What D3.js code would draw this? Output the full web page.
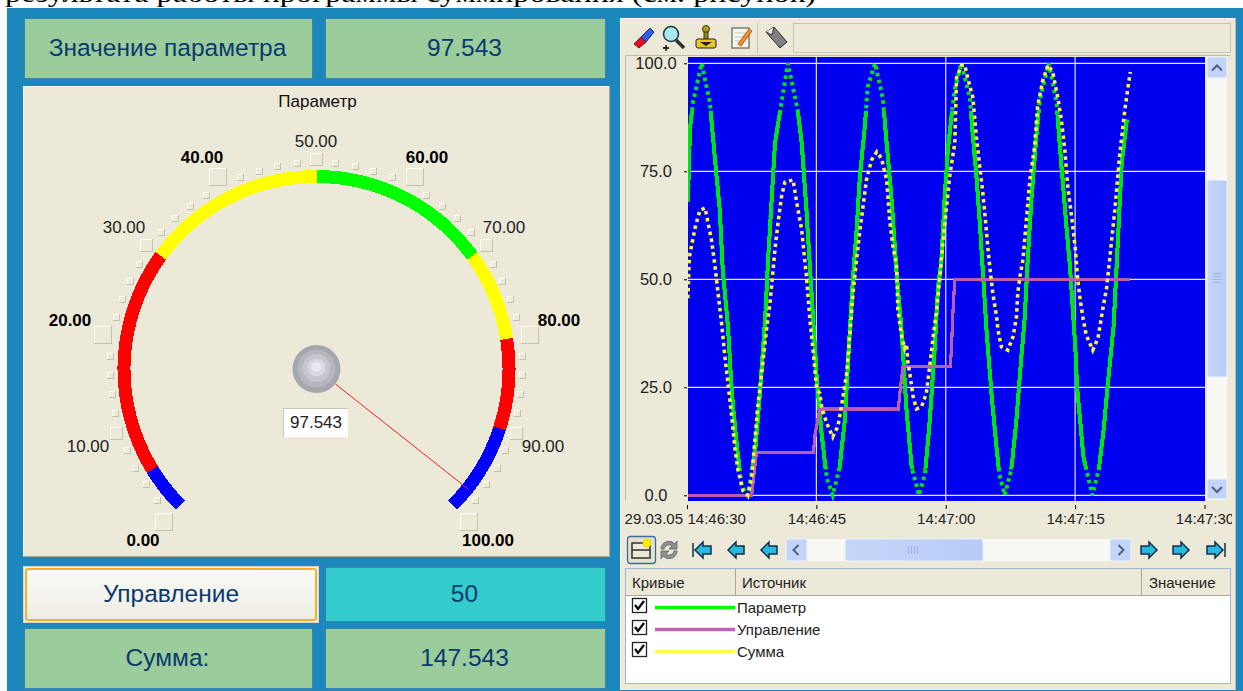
<!DOCTYPE html>
<html>
<head>
<meta charset="utf-8">
<script src="https://d3js.org/d3.v7.min.js"></script>
<style>
  body { margin: 0; background: #fff; }
  svg { display: block; }
  text { font-family: "Liberation Sans", sans-serif; }
</style>
</head>
<body>
<div id="chart"></div>
<script>
// trend curves, time is seconds after 14:46:30
const paramTimes = [0.1,0.35,0.7,1.7,2.65,3.25,3.8,4.15,4.75,5.2,5.75,6.35,7.05,7.9,8.45,9.05,9.4,10.2,10.8,11.7,12.85,13.3,13.85,14.25,15.05,15.6,16.2,16.9,17.7,18.3,18.9,19.25,19.65,20.05,20.6,20.95,21.8,22.7,23.15,23.7,24.3,24.9,25.45,26.05,26.9,27.6,28.15,28.75,29.1,29.5,29.9,30.25,30.65,31.05,31.8,32.8,33.15,33.55,33.95,34.3,34.75,35.3,35.8,36.2,36.85,37.6,38.2,38.6,39.15,39.5,39.95,40.5,40.9,41.95,42.85,43.2,43.55,44.0,44.4,45.0,45.25,45.6,45.95,47.0,47.75,48.35,48.75,49.45,49.85,50.4,51.0];
const paramValues = [68,85,91,100,91,77.6,66,52,39,23.6,12,2,0,10,23.6,40.6,54.5,81.5,89,100,89,81.5,66,53,27,14.4,4,0,6.5,17.4,39,50.6,61,74,85,94.5,100,92,81.5,69,51.5,37.6,19.7,6.5,0,5,17.4,35,48,54.5,70,80,87.6,94,100,92,83,74,63,52,37.6,23.6,12.8,5,0,6,17.4,28,41,54.5,69,83,91.5,100,91,81.5,73,62,53,35,24.4,17,9,0,6,16,25,39,54.5,77,87];

const controlTimes = [0.1,7.5,8.05,14.65,14.85,15.4,24.5,24.75,25.05,30.55,30.7,30.85,31.05,51.4];
const controlValues = [0,0,9.9,9.9,14,20,20,25,29.9,29.9,36,43,50,50];

const sumTimes = [0.1,0.25,0.35,0.95,1.5,2.1,2.45,2.85,3.25,3.6,4.0,4.4,4.75,5.2,5.55,5.9,6.5,7.05,7.5,8.2,8.65,9.25,9.6,9.95,10.2,10.55,10.95,11.35,12.3,12.7,13.3,13.65,13.85,14.25,14.6,15.05,15.4,15.6,16.2,16.9,17.5,17.9,18.5,18.9,19.25,19.65,20.05,20.4,20.8,21.4,22.0,22.55,23.15,23.5,23.85,24.3,24.45,24.9,25.25,25.45,25.6,25.85,26.2,26.6,27.2,27.75,28.15,28.5,28.95,29.3,29.65,30.1,30.5,31.05,31.25,31.85,32.2,32.55,33.15,33.55,33.95,34.3,34.6,34.9,35.1,35.45,35.9,36.05,36.45,37.2,37.8,38.2,38.35,38.6,38.95,39.35,39.75,40.3,40.65,41.25,41.85,42.4,43.0,43.4,43.8,44.15,44.6,45.0,45.2,45.3,45.6,45.95,46.3,47.05,47.65,48.2,48.65,49.0,49.6,50.15,50.75,51.1,51.4];
const sumValues = [45.6,54,56,62,66,66.5,63,59,53,46.8,40,32,26,18,11,6,1,0,4,20.5,28,39,44,51.5,57,63,69,72.5,73,68,61.4,54.5,50.6,40.6,34,24.4,23.6,20.5,16.7,13.5,16,20.5,28,37.6,46.8,54.5,61.4,66.7,73,77.6,79.5,78,73,63.7,58,53,43,36.7,34,35,31,28,23,20,20.5,23.6,30,36,43,50,58,67,74.5,81.5,96.6,99.6,99.6,96.6,92,83,76,70,63.7,57,53,46.8,41.3,38.3,34.4,33.6,36.7,41.3,46.8,50.6,54.5,63.7,73,80.6,90,96,99.6,98,92,87,80,71.4,64.4,57.5,52.6,50,45,40.6,37,33.6,36.4,43,48,54.5,66,78.4,89,94,98];

const trendTicks = [0, 15, 30, 45, 60];
const trendTickLabels = ["14:46:30", "14:46:45", "14:47:00", "14:47:15", "14:47:30"];
const trendDate = "29.03.05";
const valueTicks = [0, 25, 50, 75, 100];

// gauge
const gaugeBands = [
  { from: 0, to: 5, color: "#0000ff" },
  { from: 5, to: 30, color: "#ff0000" },
  { from: 30, to: 50, color: "#ffff00" },
  { from: 50, to: 70, color: "#00ff00" },
  { from: 70, to: 80, color: "#ffff00" },
  { from: 80, to: 90, color: "#ff0000" },
  { from: 90, to: 100, color: "#0000ff" },
];
const gaugeMajor = [0, 20, 40, 60, 80, 100];
const gaugeMiddle = [10, 30, 50, 70, 90];
const gaugeMinor = d3.range(0, 101, 2).filter((d) => d % 10 !== 0);
const paramValue = 97.543;
const controlValue = 50;
const sumValue = 147.543;

const legendNames = ["Параметр", "Управление", "Сумма"];
const legendColors = ["#00ff00", "#c060b0", "#ffff40"];

const svg = d3.select("#chart").append("svg").attr("width", 1243).attr("height", 691);
const defs = svg.append("defs");

svg.append("rect").attr("x", 7).attr("y", 8).attr("width", 1236).attr("height", 683).attr("fill", "#1c87bc");
svg.append("text").attr("x", 5).attr("y", 2).attr("font-size", 25)
  .attr("textLength", 811).attr("lengthAdjust", "spacingAndGlyphs")
  .style("font-family", "'Liberation Serif', serif")
  .text("результата работы программы суммирования (см. рисунок)");

// ---- left side: value tiles
function tile(x, y, w, h, fill, label) {
  svg.append("rect").attr("x", x + 0.5).attr("y", y + 0.5).attr("width", w - 1).attr("height", h - 1)
    .attr("fill", fill).attr("stroke", "#3f80a8");
  svg.append("text").attr("x", x + w / 2 - 1).attr("y", y + h / 2 + 7.5).attr("text-anchor", "middle")
    .attr("font-size", 24.5).attr("fill", "#0b3a6e").text(label);
}
tile(24, 18, 289, 61, "#9bcc9b", "Значение параметра");
tile(325, 18, 281, 61, "#9bcc9b", paramValue.toFixed(3));
tile(325, 567, 281, 55, "#33cccc", controlValue);
tile(24, 628, 289, 61, "#9bcc9b", "Сумма:");
tile(325, 628, 281, 61, "#9bcc9b", sumValue.toFixed(3));

const btnGrad = defs.append("linearGradient").attr("id", "btn").attr("x2", 0).attr("y2", 1);
btnGrad.append("stop").attr("offset", 0).attr("stop-color", "#fafaf6");
btnGrad.append("stop").attr("offset", 1).attr("stop-color", "#eeede4");
svg.append("rect").attr("x", 23.5).attr("y", 566.5).attr("width", 295).attr("height", 56)
  .attr("fill", "#f0f0ea").attr("stroke", "#d8d8d0");
svg.append("rect").attr("x", 26).attr("y", 569).attr("width", 290).attr("height", 51).attr("rx", 2)
  .attr("fill", "url(#btn)").attr("stroke", "#f4b030").attr("stroke-width", 2);
svg.append("text").attr("x", 171).attr("y", 602).attr("text-anchor", "middle")
  .attr("font-size", 24.5).attr("fill", "#0b3a6e").text("Управление");

// ---- gauge
const cx = 316.5, cy = 369;
const angle = d3.scaleLinear().domain([0, 100]).range([-135, 135]);
const rad = (v) => (angle(v) * Math.PI) / 180;
const polar = (v, r) => [cx + r * Math.sin(rad(v)), cy - r * Math.cos(rad(v))];

svg.append("rect").attr("x", 23).attr("y", 86).attr("width", 587).attr("height", 471).attr("fill", "#ece9d8");
svg.append("path").attr("d", "M23.5,557V86.5H610").attr("fill", "none").attr("stroke", "#fbfaf4");
svg.append("path").attr("d", "M609.5,86V556.5H23").attr("fill", "none").attr("stroke", "#a9a795");

svg.append("text").attr("x", 317.5).attr("y", 107).attr("text-anchor", "middle")
  .attr("font-size", 17).attr("fill", "#111").text("Параметр");

const arc = d3.arc().innerRadius(186).outerRadius(199);
const gauge = svg.append("g").attr("transform", `translate(${cx},${cy})`).attr("shape-rendering", "crispEdges");
gauge.selectAll("path").data(gaugeBands).join("path")
  .attr("d", (d) => arc({ startAngle: rad(d.from), endAngle: rad(d.to) }))
  .attr("fill", (d) => d.color);

function raisedSquare(v, r, size) {
  const [x, y] = polar(v, r);
  const left = Math.round(x - size / 2), top = Math.round(y - size / 2);
  const g = svg.append("g").attr("shape-rendering", "crispEdges");
  g.append("rect").attr("x", left).attr("y", top).attr("width", size).attr("height", size).attr("fill", "#c4c1ae");
  g.append("rect").attr("x", left).attr("y", top).attr("width", size - 1).attr("height", size - 1).attr("fill", "#fcfbf6");
  g.append("rect").attr("x", left + 1).attr("y", top + 1).attr("width", size - 2).attr("height", size - 2).attr("fill", "#ece9d8");
}
gaugeMinor.forEach((v) => raisedSquare(v, 206, 7));
gaugeMiddle.forEach((v) => raisedSquare(v, 210, 13));
gaugeMajor.forEach((v) => raisedSquare(v, 216, 18));

const gaugeLabelPos = { 0: [143, 540], 10: [88, 446], 20: [70, 320], 30: [124, 227], 40: [202, 157], 50: [316, 141], 60: [427, 157], 70: [504, 227], 80: [559, 320], 90: [543, 446], 100: [488, 540] };
gaugeMajor.concat(gaugeMiddle).forEach((v) => {
  svg.append("text").attr("x", gaugeLabelPos[v][0]).attr("y", gaugeLabelPos[v][1] + 6)
    .attr("text-anchor", "middle").attr("font-size", 17)
    .attr("font-weight", gaugeMajor.includes(v) ? "bold" : "normal")
    .attr("fill", gaugeMajor.includes(v) ? "#000" : "#222").text(v.toFixed(2));
});

const needleFrom = polar(paramValue, 24), needleTo = polar(paramValue, 193.5);
svg.append("line").attr("x1", needleFrom[0]).attr("y1", needleFrom[1]).attr("x2", needleTo[0]).attr("y2", needleTo[1])
  .attr("stroke", "#f02020").attr("stroke-width", 1);
[[24, "#a6a6ae"], [19, "#b6b6be"], [14, "#c6c6ce"], [9, "#d8d8e0"], [5, "#e8e8f0"]].forEach(([r, c], i) => {
  svg.append("circle").attr("cx", cx).attr("cy", cy - i * 0.5).attr("r", r).attr("fill", c);
});
svg.append("rect").attr("x", 283).attr("y", 408).attr("width", 65).attr("height", 29).attr("fill", "#fff");
svg.append("path").attr("d", "M283.5,437V408.5H348").attr("fill", "none").attr("stroke", "#c9c6b6");
svg.append("text").attr("x", 316).attr("y", 428).attr("text-anchor", "middle").attr("font-size", 17)
  .attr("fill", "#222").text(paramValue.toFixed(3));

// ---- right side: trend window
svg.append("rect").attr("x", 620).attr("y", 18).attr("width", 616).attr("height", 672).attr("fill", "#ece9d8");
svg.append("path").attr("d", "M620.5,690V18.5H1236").attr("fill", "none").attr("stroke", "#f8f7f0");
svg.append("path").attr("d", "M1235.5,18V689.5").attr("fill", "none").attr("stroke", "#bdbaa8");
svg.append("path").attr("d", "M625.5,500V55.5H1230").attr("fill", "none").attr("stroke", "#bdbaa8");
svg.append("path").attr("d", "M757.5,23V54").attr("stroke", "#c8c5b4");
svg.append("rect").attr("x", 793.5).attr("y", 23.5).attr("width", 437).attr("height", 29)
  .attr("fill", "#ece9d8").attr("stroke", "#c8c5b4");

const margin = { left: 688, right: 1205, top: 57, bottom: 501 };
const x = d3.scaleLinear().domain([0, 60]).range([687, 1204.5]);
const y = d3.scaleLinear().domain([0, 100]).range([495.3, 63.3]);

const plot = svg.append("g");
plot.append("rect").attr("x", margin.left).attr("y", margin.top)
  .attr("width", margin.right - margin.left).attr("height", margin.bottom - margin.top).attr("fill", "#0000f0");
plot.append("g").selectAll("line").data(valueTicks).join("line")
  .attr("x1", margin.left).attr("x2", margin.right).attr("y1", (d) => y(d)).attr("y2", (d) => y(d))
  .attr("stroke", "#e4e4ff").attr("stroke-width", 1.2);
plot.append("g").selectAll("line").data(trendTicks.slice(1, 4)).join("line")
  .attr("x1", (d) => x(d)).attr("x2", (d) => x(d)).attr("y1", margin.top).attr("y2", margin.bottom)
  .attr("stroke", "#e4e4ff").attr("stroke-width", 1.2);

const lineOf = (times, values) => d3.line().x((d, i) => x(times[i])).y((d) => y(d))(values);
defs.append("clipPath").attr("id", "midBand").append("rect")
  .attr("x", margin.left).attr("width", margin.right - margin.left)
  .attr("y", y(89)).attr("height", y(6) - y(89));
defs.append("clipPath").attr("id", "plotArea").append("rect")
  .attr("x", margin.left).attr("width", margin.right - margin.left)
  .attr("y", margin.top).attr("height", margin.bottom - margin.top);

const curves = plot.append("g").attr("clip-path", "url(#plotArea)").attr("fill", "none");
curves.append("path").attr("d", lineOf(paramTimes, paramValues))
  .attr("stroke", "#00e414").attr("stroke-width", 4).attr("stroke-dasharray", "3.5,3.5");
curves.append("g").attr("clip-path", "url(#midBand)").append("path").attr("d", lineOf(paramTimes, paramValues))
  .attr("stroke", "#00e414").attr("stroke-width", 4).attr("shape-rendering", "crispEdges");
curves.append("path").attr("d", d3.line().x((d, i) => x(controlTimes[i])).y((d) => y(d))(controlValues))
  .attr("stroke", "#b860b0").attr("stroke-width", 3.2).attr("shape-rendering", "crispEdges");
curves.append("path").attr("d", lineOf(sumTimes, sumValues))
  .attr("stroke", "#fbf240").attr("stroke-width", 3.6).attr("stroke-dasharray", "3.5,3.5");

// axes
defs.append("clipPath").attr("id", "panelClip").append("rect")
  .attr("x", 620).attr("y", 18).attr("width", 612).attr("height", 672);
const xAxis = svg.append("g").attr("clip-path", "url(#panelClip)").append("g").attr("transform", "translate(0,505)")
  .call(d3.axisBottom(x).tickValues(trendTicks).tickSize(4).tickSizeOuter(0)
    .tickFormat((d, i) => trendTickLabels[i]));
xAxis.select(".domain").remove();
xAxis.selectAll("text").attr("font-size", 15).attr("fill", "#222").attr("y", 8).attr("dy", "0.71em")
  .style("font-family", "'Liberation Sans', sans-serif");
xAxis.selectAll(".tick").filter((d) => d === 0).select("text").attr("text-anchor", "start")
  .attr("x", 0);
svg.append("text").attr("x", 683).attr("y", 524).attr("text-anchor", "end").attr("font-size", 15)
  .attr("fill", "#222").text(trendDate);

const yAxis = svg.append("g").attr("transform", "translate(687,0)")
  .call(d3.axisLeft(y).tickValues(valueTicks).tickSize(3).tickFormat(d3.format(".1f")));
yAxis.select(".domain").remove();
yAxis.selectAll("text").attr("font-size", 16.5).attr("fill", "#222").attr("text-anchor", "middle").attr("x", -31)
  .style("font-family", "'Liberation Sans', sans-serif");

// scrollbars
const sbGrad = defs.append("linearGradient").attr("id", "sbThumb");
sbGrad.append("stop").attr("offset", 0).attr("stop-color", "#c6d6fa");
sbGrad.append("stop").attr("offset", 1).attr("stop-color", "#b6cbf6");
function sbButton(bx, by, w, h, chevron) {
  svg.append("rect").attr("x", bx).attr("y", by).attr("width", w).attr("height", h).attr("rx", 2)
    .attr("fill", "#c3d4fb").attr("stroke", "#eef3ff");
  svg.append("path").attr("d", chevron).attr("transform", `translate(${bx + w / 2},${by + h / 2})`)
    .attr("fill", "none").attr("stroke", "#4d6185").attr("stroke-width", 2);
}
svg.append("rect").attr("x", 1207).attr("y", 57).attr("width", 20).attr("height", 443).attr("fill", "#f8f8f4");
svg.append("rect").attr("x", 1207).attr("y", 180).attr("width", 20).attr("height", 197).attr("rx", 2)
  .attr("fill", "url(#sbThumb)").attr("stroke", "#eef3ff");
svg.append("path").attr("d", "M1213,273.5h8M1213,276.5h8M1213,279.5h8M1213,282.5h8").attr("stroke", "#9db4e4");
sbButton(1207, 57, 20, 21, "M-5,3L0,-2L5,3");
sbButton(1207, 479, 20, 20, "M-5,-2L0,3L5,-2");

svg.append("rect").attr("x", 786).attr("y", 539).attr("width", 345).attr("height", 22).attr("fill", "#f8f8f4");
svg.append("rect").attr("x", 845).attr("y", 539).attr("width", 138).attr("height", 22).attr("rx", 2)
  .attr("fill", "url(#sbThumb)").attr("stroke", "#eef3ff");
svg.append("path").attr("d", "M908.5,546v8M911.5,546v8M914.5,546v8M917.5,546v8").attr("stroke", "#9db4e4");
sbButton(786, 539, 21, 22, "M2,-5L-3,0L2,5");
sbButton(1110, 539, 21, 22, "M-2,-5L3,0L-2,5");

// toolbar icons
const icon = (ix, iy) => svg.append("g").attr("transform", `translate(${ix},${iy})`);
let ic = icon(643, 38);
ic.append("path").attr("d", "M-9,6L-2,-1L3,4L-4,10Z").attr("fill", "#e01020").attr("stroke", "#801018");
ic.append("path").attr("d", "M-2,-1L7,-10L11,-6L3,4Z").attr("fill", "#3060e0").attr("stroke", "#182878");
ic = icon(673, 37);
ic.append("circle").attr("cx", -2).attr("cy", -3).attr("r", 7.5).attr("fill", "#a8e8f0").attr("stroke", "#203838").attr("stroke-width", 1.5);
ic.append("path").attr("d", "M3,3L11,11").attr("stroke", "#303030").attr("stroke-width", 3.5);
ic.append("path").attr("d", "M-10,11h6M-7,8v6").attr("stroke", "#000").attr("stroke-width", 1.3);
ic = icon(706, 38);
ic.append("circle").attr("cy", -9).attr("r", 3.5).attr("fill", "#a8a030").attr("stroke", "#403c00");
ic.append("rect").attr("x", -2).attr("y", -6).attr("width", 4).attr("height", 8).attr("fill", "#908820").attr("stroke", "#403c00");
ic.append("rect").attr("x", -10).attr("y", 1).attr("width", 20).attr("height", 9).attr("rx", 2).attr("fill", "#e8c830").attr("stroke", "#222");
ic.append("path").attr("d", "M-6,4h12L0,8Z").attr("fill", "#222");
ic = icon(741, 38);
ic.append("rect").attr("x", -9).attr("y", -10).attr("width", 17).attr("height", 20).attr("fill", "#f4f4f0").attr("stroke", "#807c70").attr("stroke-width", 1.5);
ic.append("path").attr("d", "M-6,-5h11M-6,-1h11M-6,3h8").attr("stroke", "#c8c8c0");
ic.append("path").attr("d", "M-3,6L8,-9L11,-7L0,8Z").attr("fill", "#f09030").attr("stroke", "#b86010");
ic = icon(776, 38);
ic.append("path").attr("d", "M-10,-6L-2,-11L11,4L4,10Z").attr("fill", "#808080").attr("stroke", "#303030");
ic.append("path").attr("d", "M-10,-6L-4,-3L-2,-11").attr("fill", "#ece9d8").attr("stroke", "#303030");

// lower toolbar
svg.append("rect").attr("x", 627.5).attr("y", 536.5).attr("width", 28).attr("height", 27).attr("rx", 3)
  .attr("fill", "#e4e1cf").attr("stroke", "#3a6ea0").attr("stroke-width", 1.3);
ic = icon(641, 550);
ic.append("rect").attr("x", -9).attr("y", -7).attr("width", 18).attr("height", 15).attr("fill", "#ece9d8").attr("stroke", "#303030").attr("stroke-width", 1.5);
ic.append("path").attr("d", "M-9,0H9").attr("stroke", "#303030").attr("stroke-width", 1.5);
ic.append("circle").attr("cx", 6).attr("cy", -7).attr("r", 4).attr("fill", "#ffee00").attr("stroke", "#e8d800");
ic = icon(669, 550);
ic.append("path").attr("d", "M-8,-1A8,8 0 0 1 6,-6L8,-9V-1H0L3,-4A5,5 0 0 0 -5,-1Z").attr("fill", "#909090").attr("stroke", "#707070");
ic.append("path").attr("d", "M8,1A8,8 0 0 1 -6,6L-8,9V1H0L-3,4A5,5 0 0 0 5,1Z").attr("fill", "#909090").attr("stroke", "#707070");

function navArrow(ax, dir, bar) {
  const g = icon(ax, 550).attr("transform", `translate(${ax},550) scale(${dir},1)`);
  g.append("path").attr("d", "M-8,0L0,-8V-4H8V4H0V8Z").attr("fill", "#28b8e0").attr("stroke", "#103048").attr("stroke-width", 1.5);
  if (bar) g.append("path").attr("d", "M-10,-7V7").attr("stroke", "#103048").attr("stroke-width", 1.5);
}
navArrow(703, 1, true);
navArrow(736, 1, false);
navArrow(769, 1, false);
navArrow(1149, -1, false);
navArrow(1181, -1, false);
navArrow(1215, -1, true);

// ---- legend table
svg.append("rect").attr("x", 625.5).attr("y", 568.5).attr("width", 605).attr("height", 115)
  .attr("fill", "#fff").attr("stroke", "#9db8d0");
svg.append("rect").attr("x", 626).attr("y", 569).attr("width", 604).attr("height", 27).attr("fill", "#ece9d8");
svg.append("path").attr("d", "M626,595.5H1230").attr("stroke", "#aca899");
svg.append("path").attr("d", "M735.5,569V596M1141.5,569V596").attr("stroke", "#aca899");
[["Кривые", 632], ["Источник", 742], ["Значение", 1149]].forEach(([label, lx]) => {
  svg.append("text").attr("x", lx).attr("y", 588).attr("font-size", 15).attr("fill", "#222").text(label);
});
const rows = svg.append("g").selectAll("g").data(legendNames).join("g")
  .attr("transform", (d, i) => `translate(0,${607 + i * 22})`);
rows.append("rect").attr("x", 632.5).attr("y", -8.5).attr("width", 14).attr("height", 14)
  .attr("fill", "#fff").attr("stroke", "#222").attr("stroke-width", 1.3);
rows.append("path").attr("d", "M635,-2L638,2L644,-6").attr("fill", "none").attr("stroke", "#000").attr("stroke-width", 2.2);
rows.append("line").attr("x1", 655).attr("x2", 735).attr("y1", 0.5).attr("y2", 0.5)
  .attr("stroke", (d, i) => legendColors[i]).attr("stroke-width", 3.5);
rows.append("text").attr("x", 737).attr("y", 6).attr("font-size", 15).attr("fill", "#222").text((d) => d);
</script>
</body>
</html>
